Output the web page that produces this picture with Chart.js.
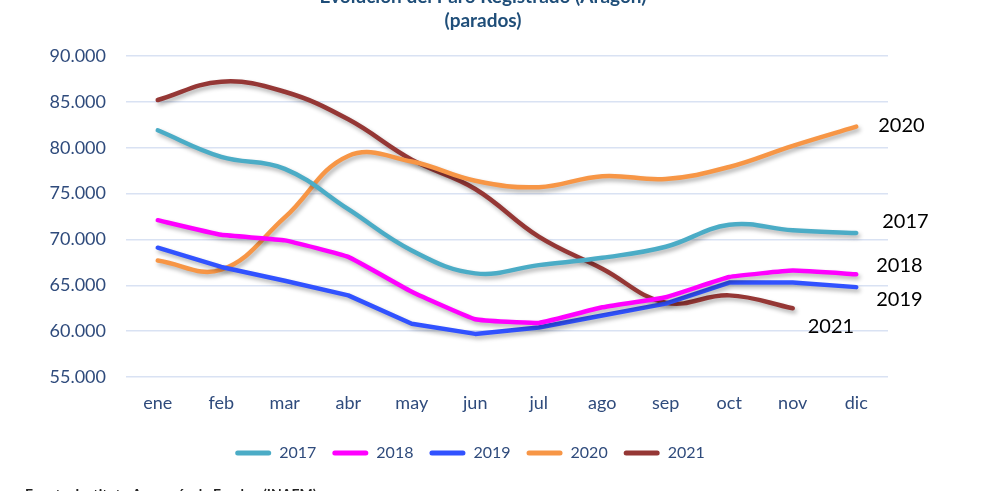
<!DOCTYPE html>
<html>
<head>
<meta charset="utf-8">
<script src="https://cdn.jsdelivr.net/npm/chart.js@4"></script>
<style>
  html, body { margin: 0; padding: 0; background: #fff; }
  #wrap { position: relative; width: 990px; height: 491px; overflow: hidden; }
</style>
</head>
<body>
<div id="wrap"><canvas id="chart"></canvas></div>
<script>
const months = ["ene", "feb", "mar", "abr", "may", "jun", "jul", "ago", "sep", "oct", "nov", "dic"];
const paro2017 = [81900, 79000, 77700, 73300, 68800, 66300, 67200, 68000, 69200, 71600, 71000, 70700];
const paro2018 = [72100, 70500, 69900, 68100, 64300, 61300, 60900, 62600, 63700, 65900, 66600, 66200];
const paro2019 = [69100, 67000, 65500, 63900, 60800, 59700, 60400, 61700, 63000, 65300, 65300, 64800];
const paro2020 = [67700, 66700, 72400, 79100, 78500, 76400, 75700, 76900, 76600, 77900, 80200, 82300];
const paro2021 = [85200, 87200, 86100, 83100, 78700, 75500, 70300, 66800, 63100, 63900, 62500];
const yTicks = { min: 55000, max: 90000, step: 5000 };

const axisColor = "#2F4B7C";
const fmt = (v) => String(v).replace(/\B(?=(\d{3})+(?!\d))/g, ".");

// end-of-line year labels, offset from each series' last point
const endLabels = [
  { ds: 0, dx: 26, dy: -11 },
  { ds: 1, dx: 20, dy: -9 },
  { ds: 2, dx: 20, dy: 12 },
  { ds: 3, dx: 22, dy: -1 },
  { ds: 4, dx: 15, dy: 18 }
];

const shadowPlugin = {
  id: "lineShadow",
  beforeDatasetDraw(chart) {
    const ctx = chart.ctx;
    ctx.save();
    ctx.shadowColor = "rgba(0,0,0,0.3)";
    ctx.shadowBlur = 4;
    ctx.shadowOffsetX = 2;
    ctx.shadowOffsetY = 3;
  },
  afterDatasetDraw(chart) {
    chart.ctx.restore();
  }
};

// nudge the legend right so it sits where the source has it
const legendShift = {
  id: "legendShift",
  afterUpdate(chart) {
    const lg = chart.legend;
    if (!lg) return;
    lg.left += 26;
    lg.right += 26;
    lg.adjustHitBoxes();
  }
};

const textPlugin = {
  id: "extraText",
  afterDraw(chart) {
    const ctx = chart.ctx;
    ctx.save();
    // title (partially cut at the top like the source)
    ctx.fillStyle = "#1F4E79";
    ctx.font = "bold 19px Lato";
    ctx.textAlign = "center";
    ctx.textBaseline = "alphabetic";
    ctx.fillText("Evolución del Paro Registrado (Aragón)", 483, 3);
    ctx.fillText("(parados)", 483, 27);

    // year labels at line ends
    ctx.fillStyle = "#000";
    ctx.font = "20px Lato";
    ctx.textAlign = "left";
    ctx.textBaseline = "middle";
    endLabels.forEach((l) => {
      const meta = chart.getDatasetMeta(l.ds);
      const pt = meta.data[meta.data.length - 1];
      ctx.fillText(chart.data.datasets[l.ds].label, pt.x + l.dx, pt.y + l.dy);
    });

    // source line (cut at the bottom)
    ctx.fillStyle = "#222";
    ctx.font = "bold 14px Lato";
    ctx.textBaseline = "alphabetic";
    ctx.fillText("Fuente: Instituto Aragonés de Empleo (INAEM)", 25, 499);
    ctx.restore();
  }
};

const mk = (label, data, color, tension) => ({
  label, data,
  borderColor: color,
  backgroundColor: color,
  borderWidth: 4.5,
  borderCapStyle: "round",
  borderJoinStyle: "round",
  pointRadius: 0,
  tension,
  fill: false
});

new Chart(document.getElementById("chart").getContext("2d"), {
  type: "line",
  data: {
    labels: months,
    datasets: [
      mk("2017", paro2017, "#4BACC6", 0.4),
      mk("2018", paro2018, "#FF00FF", 0.1),
      mk("2019", paro2019, "#3152FF", 0),
      mk("2020", paro2020, "#F79646", 0.4),
      mk("2021", paro2021, "#953735", 0.4)
    ]
  },
  options: {
    responsive: true,
    maintainAspectRatio: false,
    animation: false,
    layout: { padding: { top: 56, right: 102, left: 0, bottom: 20 } },
    plugins: {
      title: { display: false },
      tooltip: { enabled: false },
      legend: {
        position: "bottom",
        labels: {
          color: axisColor,
          font: { family: "Lato", size: 16 },
          boxWidth: 36,
          boxHeight: 5,
          padding: 16,
          useBorderRadius: true,
          borderRadius: 2.5,
          generateLabels(chart) {
            return Chart.defaults.plugins.legend.labels.generateLabels(chart).map((it) => {
              it.lineWidth = 0;
              it.fillStyle = chart.data.datasets[it.datasetIndex].borderColor;
              return it;
            });
          }
        }
      }
    },
    scales: {
      x: {
        offset: true,
        afterFit(scale) { scale.height = 52; },
        grid: { display: false, drawTicks: false },
        border: { display: false },
        ticks: { color: axisColor, font: { family: "Lato", size: 18 }, padding: 15 }
      },
      y: {
        min: yTicks.min,
        max: yTicks.max,
        afterFit(scale) { scale.width = 126; },
        border: { display: false },
        grid: { color: "#D9E2F3", lineWidth: 1.5, drawTicks: false },
        ticks: {
          stepSize: yTicks.step,
          color: axisColor,
          font: { family: "Lato", size: 18 },
          padding: 20,
          callback: (v) => fmt(v)
        }
      }
    }
  },
  plugins: [shadowPlugin, legendShift, textPlugin]
});
</script>
</body>
</html>
